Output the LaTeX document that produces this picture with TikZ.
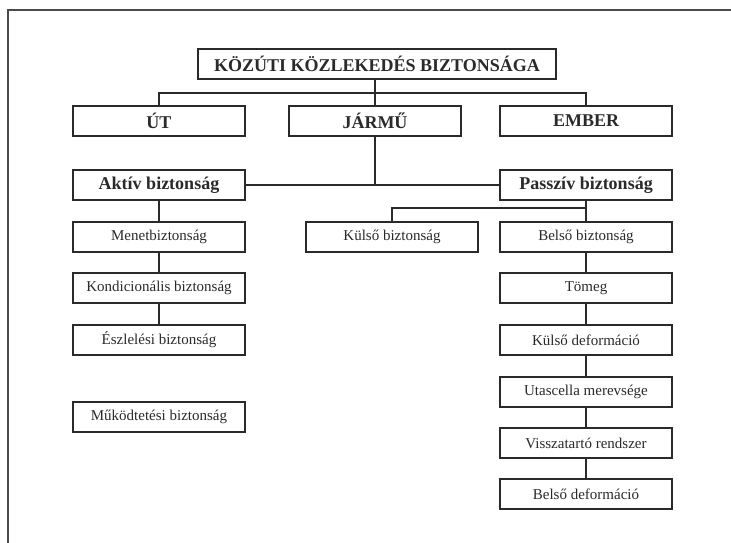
\documentclass[tikz,border=0pt]{standalone}
\usepackage{fontspec}
\setmainfont{Liberation Serif}
\definecolor{ink}{HTML}{2A2A2A}
\definecolor{frame}{HTML}{4A4A4A}
\begin{document}
\begin{tikzpicture}[x=1pt,y=1pt,
  box/.style={draw=ink,line width=1.6pt,rectangle,minimum height=30pt,minimum width=172pt,inner sep=0pt,text=ink,font=\fontsize{15}{17}\selectfont},
  bigbox/.style={box,font=\fontsize{18}{20}\selectfont\bfseries},
  midbox/.style={box,font=\fontsize{18}{20}\selectfont\bfseries},
  conn/.style={draw=ink,line width=1.3pt}]
\useasboundingbox (0,0) rectangle (731,-543);
\fill[white] (0,0) rectangle (731,-543);
\draw[frame,line width=2pt] (8,-543) -- (8,-10) -- (731,-10);

\node[bigbox,minimum width=358pt] (title) at (377,-64) {KÖZÚTI KÖZLEKEDÉS BIZTONSÁGA};
\node[bigbox] (ut) at (159,-121) {ÚT};
\node[bigbox] (jarmu) at (375,-121) {JÁRMŰ};
\node[bigbox] (ember) at (586,-121) {EMBER};

\node[midbox] (akt) at (159,-185) {\lower3pt\hbox{Aktív biztonság}};
\node[midbox] (pass) at (586,-185) {\lower3pt\hbox{Passzív biztonság}};

\node[box] (menet) at (159,-237) {Menetbiztonság};
\node[box] (kond) at (159,-288) {Kondicionális biztonság};
\node[box] (eszl) at (159,-340) {Észlelési biztonság};
\node[box] (mukod) at (159,-417) {Működtetési biztonság};

\node[box] (kulso) at (392,-237) {Külső biztonság};
\node[box] (belso) at (586,-237) {Belső biztonság};
\node[box] (tomeg) at (586,-288) {Tömeg};
\node[box] (kdef) at (586,-340) {Külső deformáció};
\node[box] (utas) at (586,-392) {Utascella merevsége};
\node[box] (vissza) at (586,-443) {Visszatartó rendszer};
\node[box] (bdef) at (586,-494) {Belső deformáció};

\coordinate (bus1) at (375,-93);
\draw[conn] (title.south -| bus1) -- (bus1);
\draw[conn] (ut.north) |- (bus1) -| (ember.north);
\draw[conn] (bus1) -- (jarmu.north);

\draw[conn] (akt.east) -- (pass.west);
\draw[conn] (jarmu.south) -- (jarmu.south |- akt.east);

\coordinate (bus2) at (586,-208);
\draw[conn] (pass.south) -- (belso.north);
\draw[conn] (kulso.north) |- (bus2);

\draw[conn] (akt) -- (menet) -- (kond) -- (eszl);
\draw[conn] (belso) -- (tomeg) -- (kdef) -- (utas) -- (vissza) -- (bdef);
\end{tikzpicture}
\end{document}
